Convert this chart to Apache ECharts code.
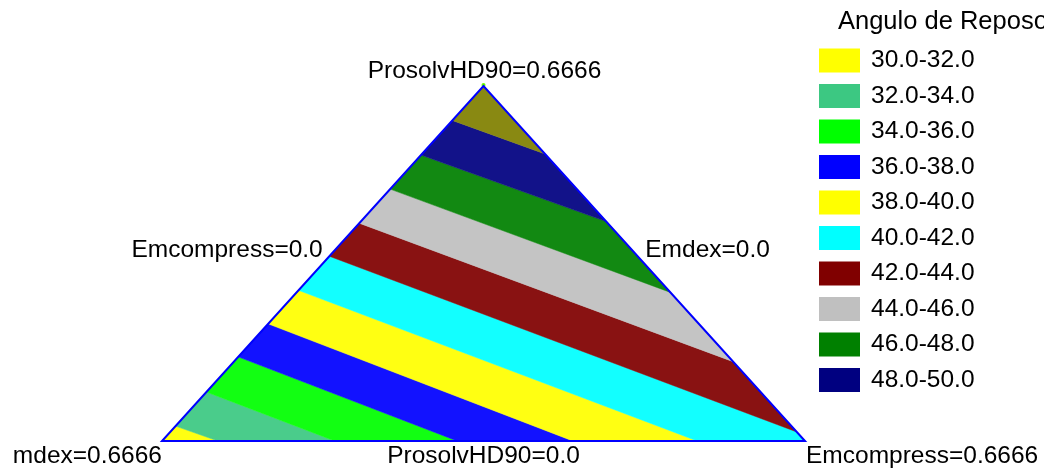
<!DOCTYPE html>
<html>
<head>
<meta charset="utf-8">
<script src="https://cdn.jsdelivr.net/npm/echarts@6/dist/echarts.min.js"></script>
<style>
html,body{margin:0;padding:0;background:#fff;}
#chart{width:1044px;height:468px;}
</style>
</head>
<body>
<div id="chart"></div>
<script>
// ---- data ----
const TOTAL = 0.6666; // Emdex + Emcompress + ProsolvHD90
const legendTitle = 'Angulo de Reposo';
const bandNames = ['30.0-32.0','32.0-34.0','34.0-36.0','36.0-38.0','38.0-40.0','40.0-42.0','42.0-44.0','44.0-46.0','46.0-48.0','48.0-50.0','50.0-52.0'];
const bandColors = ['#FFFF00','#3CC882','#00FF00','#0000FF','#FFFF00','#00FFFF','#800000','#C0C0C0','#008000','#000080','#808000'];
const contourLevels = [32, 34, 36, 38, 40, 42, 44, 46, 48, 50];
// where each contour meets the Emcompress=0.0 edge (ProsolvHD90 value there)
const leftEdgeProsolv = [0.028, 0.092, 0.158, 0.220, 0.283, 0.347, 0.409, 0.473, 0.537, 0.602];
// other end of contours 32..40 : on the ProsolvHD90=0.0 edge (Emcompress value there)
const bottomEdgeEmcompress = [0.058, 0.179, 0.306, 0.426, 0.555];
// other end of contours 42..50 : on the Emdex=0.0 edge (ProsolvHD90 value there)
const rightEdgeProsolv = [0.017, 0.149, 0.279, 0.412, 0.539];
const vertexLabels = ['Emdex=0.6666', 'Emcompress=0.6666', 'ProsolvHD90=0.6666'];
const edgeLabels = ['ProsolvHD90=0.0', 'Emdex=0.0', 'Emcompress=0.0'];

// ---- ternary helpers ----
// composition [Emdex, Emcompress, ProsolvHD90]
const V_BL = [TOTAL, 0, 0], V_BR = [0, TOTAL, 0], V_TOP = [0, 0, TOTAL];
function toXY(p) { return [p[1] + p[2] / 2, p[2]]; }
function loopParam(p) {
  if (p[1] < 1e-9 && p[2] > 1e-9) return 3 - p[2] / TOTAL; // left edge
  if (p[2] < 1e-9) return p[1] / TOTAL;                     // bottom edge
  return 1 + p[2] / TOTAL;                                   // right edge
}
const contours = contourLevels.map((lv, i) => {
  const c = leftEdgeProsolv[i];
  const B = [TOTAL - c, 0, c];
  let A;
  if (i < bottomEdgeEmcompress.length) {
    const b = bottomEdgeEmcompress[i];
    A = [TOTAL - b, b, 0];
  } else {
    const c2 = rightEdgeProsolv[i - bottomEdgeEmcompress.length];
    A = [0, TOTAL - c2, c2];
  }
  return { A, B };
});

function lighten(hex, f) {
  const n = parseInt(hex.slice(1), 16);
  const r = (n >> 16) & 255, g = (n >> 8) & 255, b = n & 255;
  const m = v => Math.round(v + (255 - v) * f);
  return 'rgb(' + m(r) + ',' + m(g) + ',' + m(b) + ')';
}

function bandPolygon(i) {
  const lower = i > 0 ? contours[i - 1] : null;
  const upper = i < contours.length ? contours[i] : null;
  const lowA = lower ? lower.A : V_BL;
  const upA = upper ? upper.A : V_TOP;
  const pts = [lowA];
  if (loopParam(lowA) < 1 && loopParam(upA) > 1) pts.push(V_BR);
  pts.push(upA);
  if (upper) pts.push(upper.B);
  if (lower) pts.push(lower.B);
  return pts;
}

const FONT = '"Liberation Sans", Arial, sans-serif';

const series = bandNames.map((name, i) => ({
  type: 'custom',
  name: name,
  coordinateSystem: 'cartesian2d',
  itemStyle: { color: bandColors[i] },
  data: [[i]],
  silent: true,
  renderItem: function (params, api) {
    const pts = bandPolygon(i).map(p => api.coord(toXY(p)));
    return {
      type: 'polygon',
      shape: { points: pts },
      style: { fill: lighten(bandColors[i], 0.07), stroke: lighten(bandColors[i], 0.07), lineWidth: 0.5 }
    };
  }
}));

series.push({
  type: 'custom',
  name: 'outline',
  coordinateSystem: 'cartesian2d',
  data: [[0]],
  silent: true,
  z: 10,
  renderItem: function (params, api) {
    const bl = api.coord(toXY(V_BL)), br = api.coord(toXY(V_BR)), tp = api.coord(toXY(V_TOP));
    const ts = (text, x, y, align) => ({
      type: 'text',
      style: { text: text, x: x, y: y, align: align, verticalAlign: 'middle', fontSize: 24.5, fontFamily: FONT, fill: '#000' }
    });
    const blText = ts(vertexLabels[0], bl[0], bl[1] + 15, 'right');
    blText.clipPath = { type: 'rect', shape: { x: 12, y: bl[1], width: bl[0], height: 40 } };
    return {
      type: 'group',
      children: [
        { type: 'polygon', shape: { points: [bl, br, tp] }, style: { fill: 'none', stroke: '#0000FF', lineWidth: 2 } },
        { type: 'circle', shape: { cx: tp[0], cy: tp[1] - 1, r: 2 }, style: { fill: '#66FF00' }, z2: -1 },
        ts(vertexLabels[2], tp[0] + 1, tp[1] - 15, 'center'),
        blText,
        ts(vertexLabels[1], br[0] + 1, br[1] + 15, 'left'),
        ts(edgeLabels[0], (bl[0] + br[0]) / 2, bl[1] + 15, 'center'),
        ts(edgeLabels[2], (bl[0] + tp[0]) / 2, (bl[1] + tp[1]) / 2 - 13, 'right'),
        ts(edgeLabels[1], (br[0] + tp[0]) / 2 + 1, (br[1] + tp[1]) / 2 - 13, 'left')
      ]
    };
  }
});

const chart = echarts.init(document.getElementById('chart'), null, { renderer: 'canvas' });
chart.setOption({
  animation: false,
  backgroundColor: '#fff',
  title: {
    text: legendTitle, left: 838, top: 9, padding: 0,
    textStyle: { fontSize: 25.5, fontWeight: 'normal', fontFamily: FONT, color: '#000' }
  },
  legend: {
    orient: 'vertical', left: 819, top: 48, padding: 0,
    itemWidth: 41, itemHeight: 24, itemGap: 10.5,
    icon: 'rect',
    data: bandNames.slice(0, 10),
    selectedMode: false,
    textStyle: { fontSize: 24.5, fontFamily: FONT, color: '#000', lineHeight: 24, padding: [0, 0, 0, 6] }
  },
  grid: { left: 162, top: 86, width: 643, height: 355, containLabel: false },
  xAxis: { type: 'value', min: 0, max: TOTAL, show: false },
  yAxis: { type: 'value', min: 0, max: TOTAL, show: false },
  series: series
});
</script>
</body>
</html>
